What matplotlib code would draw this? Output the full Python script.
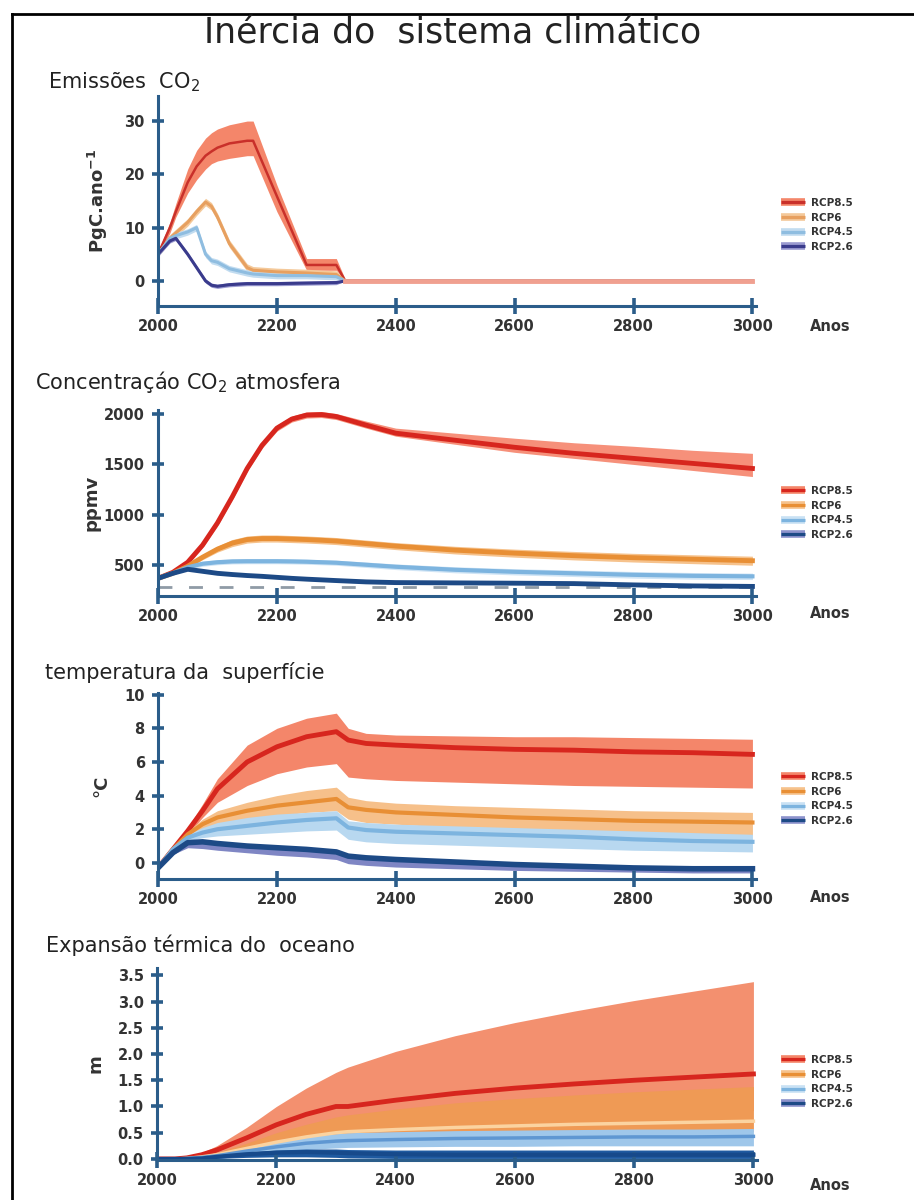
import matplotlib

matplotlib.use("Agg")
import matplotlib.pyplot as plt
import matplotlib.patheffects as pe
from matplotlib.lines import Line2D

AXIS_COLOR = "#2b5d8a"
TEXT_COLOR = "#333333"
TITLE_COLOR = "#222222"

SCENARIOS = ["RCP8.5", "RCP6", "RCP4.5", "RCP2.6"]
LINE_COLORS = ["#d7261e", "#e88f35", "#7db4df", "#1d4a86"]
BAND_COLORS = ["#f4866a", "#f6c28c", "#c9e1f4", "#8d93cc"]

XTICKS = [2000, 2200, 2400, 2600, 2800, 3000]

# --- Emissões CO2 (PgC/ano)
em_years = [2000, 2020, 2030, 2050, 2065, 2080, 2090, 2100, 2120, 2150, 2160, 2200, 2250, 2300, 2315, 3000]
em_85 = [5, 10, 13, 18.5, 21.5, 23.5, 24.3, 25, 25.8, 26.3, 26.3, 15.9, 3, 3, 0, 0]
em_85_hi = [5.5, 11, 14.5, 21, 24.5, 26.8, 27.8, 28.5, 29.3, 30, 30, 18, 4.2, 4.2, 0.3, 0.3]
em_85_lo = [4.5, 9, 12, 16.5, 19, 21, 22, 22.5, 23, 23.5, 23.5, 13, 2, 2, 0, 0]
em_6 = [5, 8, 9, 11, 13, 14.8, 14, 12, 7, 2.5, 2, 1.7, 1.5, 1.2, 0, 0]
em_6_hi = [5.5, 8.7, 9.7, 11.7, 13.7, 15.5, 14.7, 12.7, 7.7, 3.2, 2.7, 2.4, 2.2, 1.9, 0.3, 0]
em_6_lo = [4.5, 7.3, 8.3, 10.3, 12.3, 14.1, 13.3, 11.3, 6.3, 1.8, 1.3, 1.0, 0.8, 0.5, 0, 0]
em_45 = [5, 8, 8.5, 9.2, 10, 5, 3.8, 3.5, 2.3, 1.5, 1.3, 1, 1, 0.8, 0, 0]
em_45_hi = [5.5, 8.6, 9.1, 9.8, 10.6, 5.6, 4.4, 4.1, 2.9, 2.1, 1.9, 1.6, 1.6, 1.4, 0.3, 0]
em_45_lo = [4.5, 7.4, 7.9, 8.6, 9.4, 4.4, 3.2, 2.9, 1.7, 0.9, 0.7, 0.4, 0.4, 0.2, 0, 0]
em_26 = [5, 7.5, 8, 5, 2.5, 0, -0.8, -1, -0.7, -0.5, -0.5, -0.5, -0.4, -0.3, 0, 0]
em_26_hi = [5.4, 7.9, 8.4, 5.4, 2.9, 0.4, -0.4, -0.6, -0.3, -0.1, -0.1, -0.1, 0, 0.1, 0, 0]
em_26_lo = [4.6, 7.1, 7.6, 4.6, 2.1, -0.4, -1.2, -1.4, -1.1, -0.9, -0.9, -0.9, -0.8, -0.7, 0, 0]

# --- Concentração CO2 (ppmv)
co2_years = [2000, 2025, 2050, 2075, 2100, 2125, 2150, 2175, 2200, 2225, 2250, 2275, 2300, 2350, 2400, 2500, 2600, 2700, 2800, 2900, 3000]
co2_85 = [370, 430, 530, 700, 920, 1180, 1460, 1690, 1860, 1950, 1990, 1995, 1975, 1890, 1810, 1740, 1670, 1610, 1560, 1510, 1460]
co2_85_hi = [375, 440, 550, 725, 950, 1210, 1490, 1720, 1890, 1980, 2020, 2025, 2005, 1930, 1860, 1810, 1760, 1715, 1680, 1640, 1610]
co2_85_lo = [365, 420, 510, 675, 890, 1150, 1430, 1660, 1830, 1920, 1960, 1965, 1945, 1860, 1780, 1700, 1620, 1560, 1500, 1440, 1380]
co2_6 = [370, 420, 490, 580, 660, 720, 755, 765, 765, 760, 755, 748, 740, 715, 690, 650, 620, 595, 575, 560, 545]
co2_6_hi = [375, 430, 510, 605, 690, 755, 790, 800, 800, 795, 790, 783, 775, 750, 725, 688, 660, 637, 618, 604, 590]
co2_6_lo = [365, 410, 470, 555, 630, 685, 720, 730, 730, 725, 720, 713, 705, 680, 655, 612, 580, 553, 532, 516, 500]
co2_45 = [370, 420, 480, 515, 530, 538, 540, 540, 540, 538, 535, 530, 525, 505, 485, 455, 435, 420, 405, 395, 390]
co2_45_hi = [375, 430, 500, 540, 555, 563, 565, 565, 565, 563, 560, 555, 550, 532, 513, 485, 466, 452, 438, 428, 422]
co2_45_lo = [365, 410, 460, 490, 505, 513, 515, 515, 515, 513, 510, 505, 500, 478, 457, 425, 404, 388, 372, 362, 358]
co2_26 = [370, 420, 460, 440, 420, 408, 398, 390, 380, 370, 362, 355, 348, 335, 328, 325, 322, 318, 305, 295, 290]
co2_26_hi = [375, 428, 472, 453, 433, 421, 411, 403, 393, 383, 375, 368, 361, 348, 341, 338, 335, 331, 318, 308, 303]
co2_26_lo = [365, 412, 448, 427, 407, 395, 385, 377, 367, 357, 349, 342, 335, 322, 315, 312, 309, 305, 292, 282, 277]
co2_preindustrial = 280

# --- Temperatura da superfície (°C)
t_years = [2000, 2025, 2050, 2075, 2100, 2150, 2200, 2250, 2300, 2320, 2350, 2400, 2500, 2600, 2700, 2800, 2900, 3000]
t_85 = [-0.3, 0.8, 1.9, 3.1, 4.4, 6.0, 6.9, 7.5, 7.8, 7.3, 7.1, 7.0, 6.85, 6.75, 6.7, 6.6, 6.55, 6.45]
t_85_hi = [-0.3, 0.9, 2.1, 3.5, 5.0, 7.0, 8.0, 8.6, 8.9, 8.0, 7.7, 7.6, 7.55, 7.5, 7.5, 7.45, 7.4, 7.35]
t_85_lo = [-0.3, 0.7, 1.7, 2.7, 3.6, 4.6, 5.3, 5.7, 5.9, 5.1, 5.0, 4.9, 4.8, 4.7, 4.6, 4.55, 4.5, 4.45]
t_6 = [-0.3, 0.8, 1.7, 2.3, 2.7, 3.1, 3.4, 3.6, 3.8, 3.3, 3.15, 3.0, 2.85, 2.7, 2.6, 2.5, 2.45, 2.4]
t_6_hi = [-0.3, 0.9, 1.9, 2.6, 3.1, 3.6, 4.0, 4.3, 4.5, 3.9, 3.7, 3.55, 3.4, 3.3, 3.2, 3.1, 3.05, 3.0]
t_6_lo = [-0.3, 0.7, 1.5, 2.0, 2.3, 2.6, 2.8, 3.0, 3.1, 2.6, 2.4, 2.3, 2.1, 2.0, 1.9, 1.8, 1.7, 1.65]
t_45 = [-0.3, 0.8, 1.5, 1.8, 2.0, 2.2, 2.4, 2.55, 2.65, 2.1, 1.95, 1.85, 1.75, 1.65, 1.55, 1.4, 1.3, 1.25]
t_45_hi = [-0.3, 0.9, 1.7, 2.1, 2.4, 2.7, 2.9, 3.0, 3.1, 2.5, 2.4, 2.3, 2.2, 2.1, 2.0, 1.9, 1.8, 1.7]
t_45_lo = [-0.3, 0.7, 1.3, 1.5, 1.6, 1.7, 1.8, 1.9, 1.95, 1.4, 1.25, 1.15, 1.05, 0.95, 0.85, 0.75, 0.7, 0.65]
t_26 = [-0.3, 0.6, 1.2, 1.25, 1.15, 1.0, 0.9, 0.8, 0.65, 0.4, 0.3, 0.2, 0.05, -0.1, -0.2, -0.3, -0.35, -0.35]
t_26_hi = [-0.3, 0.65, 1.3, 1.35, 1.25, 1.1, 1.0, 0.9, 0.75, 0.5, 0.4, 0.3, 0.15, 0.0, -0.1, -0.2, -0.25, -0.25]
t_26_lo = [-0.3, 0.5, 0.9, 0.85, 0.75, 0.6, 0.45, 0.35, 0.2, -0.05, -0.15, -0.25, -0.35, -0.45, -0.5, -0.55, -0.6, -0.6]

# --- Expansão térmica do oceano (m)
oc_years = [2000, 2030, 2050, 2075, 2100, 2150, 2200, 2250, 2300, 2320, 2400, 2500, 2600, 2700, 2800, 2900, 3000]
oc_85 = [0, 0, 0.02, 0.08, 0.17, 0.4, 0.65, 0.85, 1.0, 1.0, 1.12, 1.25, 1.35, 1.43, 1.5, 1.56, 1.62]
oc_85_hi = [0, 0, 0.03, 0.12, 0.25, 0.6, 1.0, 1.35, 1.65, 1.75, 2.05, 2.35, 2.6, 2.82, 3.02, 3.2, 3.38]
oc_85_lo = [0, 0, 0.01, 0.04, 0.08, 0.2, 0.35, 0.45, 0.55, 0.57, 0.65, 0.72, 0.78, 0.82, 0.86, 0.9, 0.92]
oc_6 = [0, 0, 0.01, 0.04, 0.08, 0.2, 0.32, 0.42, 0.5, 0.52, 0.56, 0.6, 0.63, 0.66, 0.68, 0.7, 0.72]
oc_6_hi = [0, 0, 0.02, 0.06, 0.12, 0.3, 0.5, 0.66, 0.8, 0.84, 0.95, 1.07, 1.15, 1.22, 1.28, 1.33, 1.38]
oc_6_lo = [0, 0, 0.01, 0.03, 0.05, 0.13, 0.22, 0.3, 0.36, 0.38, 0.42, 0.45, 0.47, 0.49, 0.5, 0.51, 0.52]
oc_45 = [0, 0, 0.01, 0.03, 0.06, 0.15, 0.23, 0.3, 0.34, 0.35, 0.37, 0.39, 0.4, 0.41, 0.42, 0.42, 0.43]
oc_45_hi = [0, 0, 0.01, 0.05, 0.09, 0.22, 0.33, 0.42, 0.48, 0.5, 0.52, 0.54, 0.55, 0.56, 0.57, 0.57, 0.58]
oc_45_lo = [0, 0, 0.0, 0.02, 0.04, 0.09, 0.14, 0.18, 0.21, 0.22, 0.23, 0.24, 0.24, 0.25, 0.25, 0.25, 0.25]
oc_26 = [0, 0, 0.0, 0.01, 0.04, 0.09, 0.12, 0.13, 0.12, 0.11, 0.09, 0.08, 0.08, 0.08, 0.08, 0.08, 0.08]
oc_26_hi = [0, 0, 0.01, 0.02, 0.06, 0.13, 0.17, 0.19, 0.19, 0.18, 0.17, 0.17, 0.17, 0.17, 0.17, 0.17, 0.17]
oc_26_lo = [0, 0, 0, 0, 0.01, 0.03, 0.04, 0.04, 0.03, 0.02, 0.01, 0.01, 0.01, 0.01, 0.01, 0.01, 0.01]


def px_rect(left, top, right, bottom, w=914, h=1200):
    """Axes rect in figure fraction from pixel edges."""
    return [left / w, 1 - bottom / h, (right - left) / w, (bottom - top) / h]


def style_axis(ax, ylim, yticks, yticklabels, ylabel, label_x):
    ax.set_xlim(2000, 3006)
    ax.set_ylim(*ylim)
    ax.set_xticks(XTICKS)
    ax.set_yticks(yticks)
    ax.set_yticklabels(yticklabels)
    for side in ("top", "right"):
        ax.spines[side].set_visible(False)
    for side in ("left", "bottom"):
        ax.spines[side].set_color(AXIS_COLOR)
        ax.spines[side].set_linewidth(2.2)
    ax.tick_params(axis="x", direction="inout", length=11, width=2.6, color=AXIS_COLOR,
                   labelcolor=TEXT_COLOR, labelsize=10.5, pad=4)
    ax.tick_params(axis="y", direction="inout", length=9, width=2.6, color=AXIS_COLOR,
                   labelcolor=TEXT_COLOR, labelsize=10.5, pad=5)
    for lab in ax.get_xticklabels() + ax.get_yticklabels():
        lab.set_fontweight("bold")
    ax.set_ylabel(ylabel, fontsize=13, fontweight="bold", color=TEXT_COLOR)
    # label_x is the right edge of the rotated label, in pixels
    ax.yaxis.set_label_coords((label_x - 158) / 598, 0.5)
    ax.set_facecolor("none")


def draw_series(ax, years, series, band_colors, line_colors, line_widths):
    for (mid, lo, hi), bc in zip(series, band_colors):
        ax.fill_between(years, lo, hi, color=bc, lw=0)
    for (mid, lo, hi), lc, lw in zip(series, line_colors, line_widths):
        ax.plot(years, mid, color=lc, lw=lw)


def add_legend(fig, y_center, band_colors, line_colors):
    handles = []
    for bc, lc in zip(band_colors, line_colors):
        h = Line2D([], [], color=lc, lw=2.3, solid_capstyle="butt",
                   path_effects=[pe.Stroke(linewidth=5.5, foreground=bc), pe.Normal()])
        handles.append(h)
    leg = fig.legend(
        handles, SCENARIOS, loc="center left", bbox_to_anchor=(772 / 914, y_center),
        frameon=False, handlelength=2.3, handletextpad=0.5, labelspacing=0.45,
        prop={"size": 7.5, "weight": "bold"},
    )
    for t in leg.get_texts():
        t.set_color(TEXT_COLOR)


def main():
    fig = plt.figure(figsize=(9.14, 12), dpi=100)

    fig.text(0.495, 1 - 33 / 1200, "Inércia do  sistema climático", ha="center", va="center",
             fontsize=25, color=TITLE_COLOR)

    # panel 1: emissions
    ax1 = fig.add_axes(px_rect(158, 96, 756, 306))
    em_series = [(em_85, em_85_lo, em_85_hi), (em_6, em_6_lo, em_6_hi),
                 (em_45, em_45_lo, em_45_hi), (em_26, em_26_lo, em_26_hi)]
    em_bands = ["#f4866a", "#f4c99a", "#c2dcf0", "#9a9ad0"]
    em_lines = ["#c9302a", "#e7a060", "#8fbde0", "#3a3b8c"]
    draw_series(ax1, em_years, em_series, em_bands, em_lines, [1.8, 2.2, 2.2, 2.2])
    ax1.plot(em_years[-2:], em_85[-2:], color="#f0a090", lw=3.5)
    style_axis(ax1, (-4.7, 34.7), [0, 10, 20, 30], ["0", "10", "20", "30"],
               r"PgC.ano$^{\mathregular{-1}}$", 110)
    add_legend(fig, 1 - 225 / 1200, em_bands, em_lines)
    fig.text(48 / 914, 1 - 82 / 1200, r"Emissões  CO$_\mathregular{2}$", fontsize=15,
             color=TITLE_COLOR, va="center")

    # panel 2: CO2 concentration
    ax2 = fig.add_axes(px_rect(158, 410, 756, 596))
    ax2.axhline(co2_preindustrial, color="#8f9ba6", lw=2, dashes=(5, 6))
    co2_series = [(co2_85, co2_85_lo, co2_85_hi), (co2_6, co2_6_lo, co2_6_hi),
                  (co2_45, co2_45_lo, co2_45_hi), (co2_26, co2_26_lo, co2_26_hi)]
    draw_series(ax2, co2_years, co2_series, ["#f6907a", "#f6c28c", "#cfe4f5", "#b9c3e0"],
                LINE_COLORS, [3.5, 3.5, 3.0, 3.5])
    style_axis(ax2, (195, 2040), [500, 1000, 1500, 2000], ["500", "1000", "1500", "2000"],
               "ppmv", 101)
    add_legend(fig, 1 - 513 / 1200, BAND_COLORS, LINE_COLORS)
    fig.text(35 / 914, 1 - 382 / 1200, r"Concentraçáo CO$_\mathregular{2}$ atmosfera", fontsize=15,
             color=TITLE_COLOR, va="center")

    # panel 3: surface temperature
    ax3 = fig.add_axes(px_rect(158, 693, 756, 879))
    t_series = [(t_85, t_85_lo, t_85_hi), (t_6, t_6_lo, t_6_hi),
                (t_45, t_45_lo, t_45_hi), (t_26, t_26_lo, t_26_hi)]
    draw_series(ax3, t_years, t_series, ["#f4866a", "#f6c08a", "#b8d8f0", "#7f86c4"],
                LINE_COLORS, [3.5, 3.0, 3.0, 4.0])
    style_axis(ax3, (-0.96, 10.1), [0, 2, 4, 6, 8, 10], ["0", "2", "4", "6", "8", "10"], "°C", 110)
    add_legend(fig, 1 - 799 / 1200, BAND_COLORS, LINE_COLORS)
    fig.text(45 / 914, 1 - 672 / 1200, "temperatura da  superfície", fontsize=15,
             color=TITLE_COLOR, va="center")

    # panel 4: ocean thermal expansion
    ax4 = fig.add_axes(px_rect(157, 968, 757, 1160))
    oc_series = [(oc_85, oc_85_lo, oc_85_hi), (oc_6, oc_6_lo, oc_6_hi),
                 (oc_45, oc_45_lo, oc_45_hi), (oc_26, oc_26_lo, oc_26_hi)]
    draw_series(ax4, oc_years, oc_series, ["#f3906f", "#ef9a55", "#9fc7ea", "#1f5aa0"],
                ["#d7261e", "#fbd3a0", "#5f97d2", "#174a8b"], [3.5, 2.5, 2.5, 3.0])
    style_axis(ax4, (-0.02, 3.64), [0, 0.5, 1, 1.5, 2, 2.5, 3, 3.5],
               ["0.0", "0.5", "1.0", "1.5", "2.0", "2.5", "3.0", "3.5"], "m", 106)
    add_legend(fig, 1 - 1082 / 1200, BAND_COLORS, LINE_COLORS)
    fig.text(46 / 914, 1 - 945 / 1200, "Expansão térmica do  oceano", fontsize=15,
             color=TITLE_COLOR, va="center")

    for y_px in (326, 613, 898, 1185):
        fig.text(810 / 914, 1 - y_px / 1200, "Anos", fontsize=10.5, fontweight="bold",
                 color=TEXT_COLOR, va="center")

    # frame lines top / left
    fig.add_artist(Line2D([12 / 914, 1], [1 - 14 / 1200] * 2, color="black", lw=2))
    fig.add_artist(Line2D([12 / 914] * 2, [0, 1 - 14 / 1200], color="black", lw=2))

    fig.savefig("out.png", dpi=100, facecolor="white")


if __name__ == "__main__":
    main()
